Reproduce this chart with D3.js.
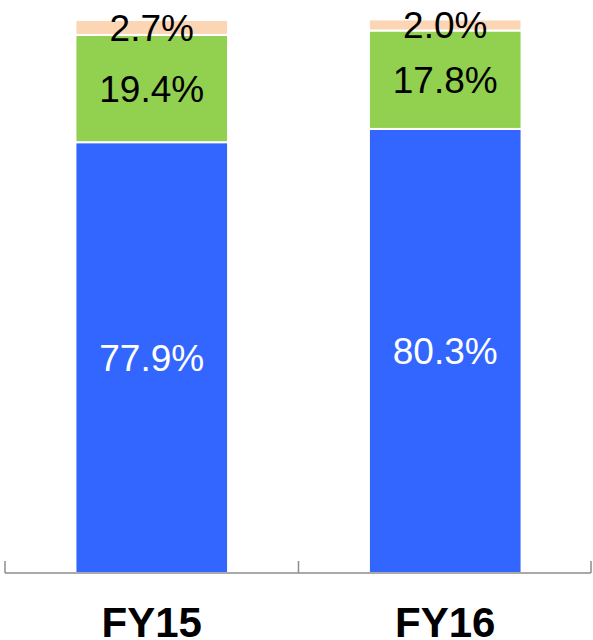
<!DOCTYPE html>
<html><head><meta charset="utf-8">
<script src="https://cdn.jsdelivr.net/npm/d3@7"></script>
<style>html,body{margin:0;padding:0;background:#fff}</style>
</head><body>
<script>
const categories = ["FY15", "FY16"];
const seriesNames = ["A", "B", "C"];
const seriesA = [77.9, 80.3];
const seriesB = [19.4, 17.8];
const seriesC = [2.7, 2.0];
const colors = ["#3366FF", "#92D050", "#FCD5B5"];
const labelColors = ["#ffffff", "#000000", "#000000"];

const W = 593, H = 640;
const svg = d3.select("body").append("svg").attr("width", W).attr("height", H);
const m = {left: 5, right: 1, top: 20, bottom: 67};
const x = d3.scaleBand().domain(categories).range([m.left, W - m.right]).paddingInner(0.48).paddingOuter(0.24);
const y = d3.scaleLinear().domain([0, 100]).range([H - m.bottom, m.top]);

const data = categories.map((c, i) => ({cat: c, A: seriesA[i], B: seriesB[i], C: seriesC[i]}));
const stack = d3.stack().keys(seriesNames)(data);

const g = svg.append("g");
stack.forEach((s, si) => {
  g.selectAll(null).data(s).enter().append("rect")
    .attr("x", d => x(d.data.cat))
    .attr("width", x.bandwidth())
    .attr("y", d => y(d[1]))
    .attr("height", d => y(d[0]) - y(d[1]))
    .attr("fill", colors[si])
    .attr("stroke", "#fff").attr("stroke-width", 2);
});
stack.forEach((s, si) => {
  g.selectAll(null).data(s).enter().append("text")
    .attr("x", d => x(d.data.cat) + x.bandwidth() / 2)
    .attr("y", d => (y(d[0]) + y(d[1])) / 2)
    .attr("dy", "0.36em")
    .attr("text-anchor", "middle")
    .attr("font-family", "Liberation Sans, Arial, sans-serif")
    .attr("font-size", 37)
    .attr("fill", labelColors[si])
    .text(d => (d[1] - d[0]).toFixed(1) + "%");
});

// axis
const axisY = y(0);
const ax = svg.append("g");
ax.append("line").attr("x1", m.left).attr("x2", W - m.right - 1).attr("y1", axisY).attr("y2", axisY)
  .attr("stroke", "#8c8c8c").attr("stroke-width", 1.5);
const step = x.step();
const tickXs = [m.left].concat(categories.map(c => x(c) + x.bandwidth() / 2 + step / 2));
tickXs.forEach(t => {
  const tx = Math.min(t, W - m.right - 1);
  ax.append("line").attr("x1", tx).attr("x2", tx).attr("y1", axisY - 12).attr("y2", axisY)
    .attr("stroke", "#8c8c8c").attr("stroke-width", 1.5);
});
ax.selectAll(null).data(categories).enter().append("text")
  .attr("x", d => x(d) + x.bandwidth() / 2)
  .attr("y", 637)
  .attr("text-anchor", "middle")
  .attr("font-family", "Liberation Sans, Arial, sans-serif")
  .attr("font-weight", "bold")
  .attr("font-size", 42)
  .attr("fill", "#000")
  .text(d => d);
</script>
</body></html>
